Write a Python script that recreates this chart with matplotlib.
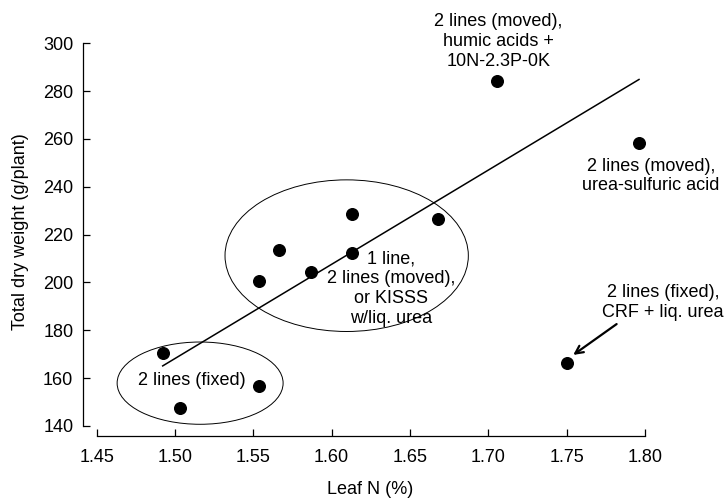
import numpy as np
import matplotlib
matplotlib.use("Agg")
import matplotlib.pyplot as plt
from matplotlib.patches import Ellipse

plt.rcParams['font.family'] = ['Liberation Sans', 'DejaVu Sans']
plt.rcParams['font.size'] = 13

# Leaf N (%) vs total dry weight (g/plant)
leaf_n = [1.4921, 1.5032, 1.5536, 1.5538, 1.5662, 1.5867, 1.6130, 1.6132, 1.6680, 1.7054, 1.7963, 1.7501]
dry_wt = [170.4, 147.7, 156.9, 200.6, 213.6, 204.4, 212.5, 228.6, 226.5, 284.4, 258.2, 166.3]
# last point (CRF + liq. urea) is left out of the fit
fit_n = leaf_n[:-1]
fit_wt = dry_wt[:-1]

xticks = [1.45, 1.50, 1.55, 1.60, 1.65, 1.70, 1.75, 1.80]
yticks = [140, 160, 180, 200, 220, 240, 260, 280, 300]

fig = plt.figure(figsize=(7.27, 4.99), dpi=100)
ax = fig.add_axes([83/727, 63/499, 561.8/727, 392.7/499])

ax.scatter(leaf_n, dry_wt, s=70, color='black', zorder=3, clip_on=False)

b, a = np.polyfit(fit_n, fit_wt, 1)
xx = np.array([min(fit_n), max(fit_n)])
ax.plot(xx, a + b*xx, color='black', lw=1.1)

# group ellipses
ax.add_patch(Ellipse((1.6096, 211.2), 0.1554, 63.4, fill=False, lw=0.7, ec='black'))
ax.add_patch(Ellipse((1.516, 157.9), 0.106, 34.4, fill=False, lw=0.7, ec='black'))

ls = 1.22
ax.text(1.638, 197.3, "1 line,\n2 lines (moved),\nor KISSS\nw/liq. urea",
        ha='center', va='center', linespacing=ls)
ax.text(1.5107, 159.2, "2 lines (fixed)", ha='center', va='center')
ax.text(1.7065, 300.8, "2 lines (moved),\nhumic acids +\n10N-2.3P-0K",
        ha='center', va='center', linespacing=ls, clip_on=False)
ax.text(1.8038, 244.5, "2 lines (moved),\nurea-sulfuric acid",
        ha='center', va='center', linespacing=ls, clip_on=False)
ax.annotate("", xy=(1.7543, 169.7), xytext=(1.782, 182.6),
            arrowprops=dict(arrowstyle='->', lw=1.6, color='black', mutation_scale=14,
                            shrinkA=0, shrinkB=0))
ax.text(1.8116, 191.6, "2 lines (fixed),\nCRF + liq. urea",
        ha='center', va='center', linespacing=ls, clip_on=False)

ax.set_xlim(1.4412, 1.80)
ax.set_ylim(135.8, 300)
ax.set_xticks(xticks)
ax.set_xticklabels(["%.2f" % t for t in xticks])
ax.set_yticks(yticks)
ax.spines['left'].set_bounds(140, 300)
ax.spines['bottom'].set_bounds(1.45, 1.80)
ax.spines['top'].set_visible(False)
ax.spines['right'].set_visible(False)
ax.spines['left'].set_linewidth(0.9)
ax.spines['bottom'].set_linewidth(0.9)
ax.tick_params(axis='x', direction='in', length=5, width=0.9, pad=9)
ax.tick_params(axis='y', direction='in', length=5, width=0.9, pad=7)

fig.text(370/727, 1 - 490/499, "Leaf N (%)", ha='center', va='center')
fig.text(21/727, 1 - 231.5/499, "Total dry weight (g/plant)", ha='center', va='center',
         rotation=90)

fig.savefig("out.png", dpi=100)
